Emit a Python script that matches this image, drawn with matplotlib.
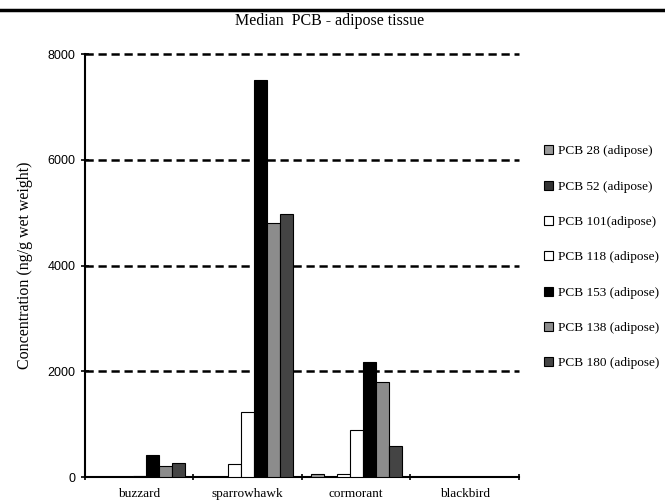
import numpy as np
import matplotlib.pyplot as plt
from matplotlib.patches import Patch
from matplotlib.lines import Line2D

species = ['buzzard', 'sparrowhawk', 'cormorant', 'blackbird']
congeners = ['PCB 28 (adipose)', 'PCB 52 (adipose)', 'PCB 101(adipose)', 'PCB 118 (adipose)',
             'PCB 153 (adipose)', 'PCB 138 (adipose)', 'PCB 180 (adipose)']
pcb28 = [0, 0, 50, 0]
pcb52 = [0, 0, 0, 0]
pcb101 = [0, 245, 50, 0]
pcb118 = [25, 1230, 890, 0]
pcb153 = [420, 7500, 2170, 0]
pcb138 = [210, 4800, 1790, 0]
pcb180 = [270, 4980, 590, 0]
series = [pcb28, pcb52, pcb101, pcb118, pcb153, pcb138, pcb180]
colors = ['#999999', '#333333', '#ffffff', '#ffffff', '#000000', '#8c8c8c', '#444444']

serif = 'Liberation Serif'
sans = 'Liberation Sans'

fig = plt.figure(figsize=(6.65, 5.01), dpi=100)
ax = fig.add_axes([0.1278, 0.0479, 0.6526, 0.8443])

x = np.arange(len(species)) + 0.5
w = 0.12
for i, vals in enumerate(series):
    ax.bar(x + (i - 3) * w, vals, width=w, color=colors[i], edgecolor='black',
           linewidth=0.8, zorder=3)

for yv in [2000, 4000, 6000, 8000]:
    ax.axhline(yv, color='black', linestyle=(0, (3.3, 1.9)), linewidth=1.8, zorder=1,
               clip_on=False)

ax.set_xlim(0, 4)
ax.set_ylim(0, 8000)
ax.set_yticks([0, 2000, 4000, 6000, 8000])
ax.set_yticklabels(['0', '2000', '4000', '6000', '8000'], fontfamily=sans, fontsize=9)
ax.set_xticks([0, 1, 2, 3, 4])
ax.set_xticklabels([])
ax.set_xticks(x, minor=True)
ax.set_xticklabels(species, minor=True, fontfamily=serif, fontsize=9.5)
ax.tick_params(axis='x', which='minor', length=0, pad=8)
ax.tick_params(axis='x', which='major', length=5, width=1.2, direction='inout')
ax.tick_params(axis='y', length=6, width=1.2, direction='inout', pad=4)
for s in ['top', 'right']:
    ax.spines[s].set_visible(False)
for s in ['left', 'bottom']:
    ax.spines[s].set_linewidth(1.5)

ax.set_ylabel('Concentration (ng/g wet weight)', fontfamily=serif, fontsize=11.5, labelpad=10)
fig.text(0.495, 0.958, 'Median  PCB - adipose tissue', ha='center', va='center',
         fontfamily=serif, fontsize=11.5)

fig.add_artist(Line2D([0, 1], [0.98, 0.98], color='black', linewidth=2.5,
                      transform=fig.transFigure))

handles = [Patch(facecolor=c, edgecolor='black', linewidth=0.8) for c in colors]
fig.legend(handles, congeners, loc='upper left', bbox_to_anchor=(0.812, 0.718),
           frameon=False, prop={'family': serif, 'size': 9.5}, handlelength=0.7,
           handleheight=0.7, handletextpad=0.4, labelspacing=1.75, borderaxespad=0,
           borderpad=0.3)

fig.savefig('out.png', dpi=100)
